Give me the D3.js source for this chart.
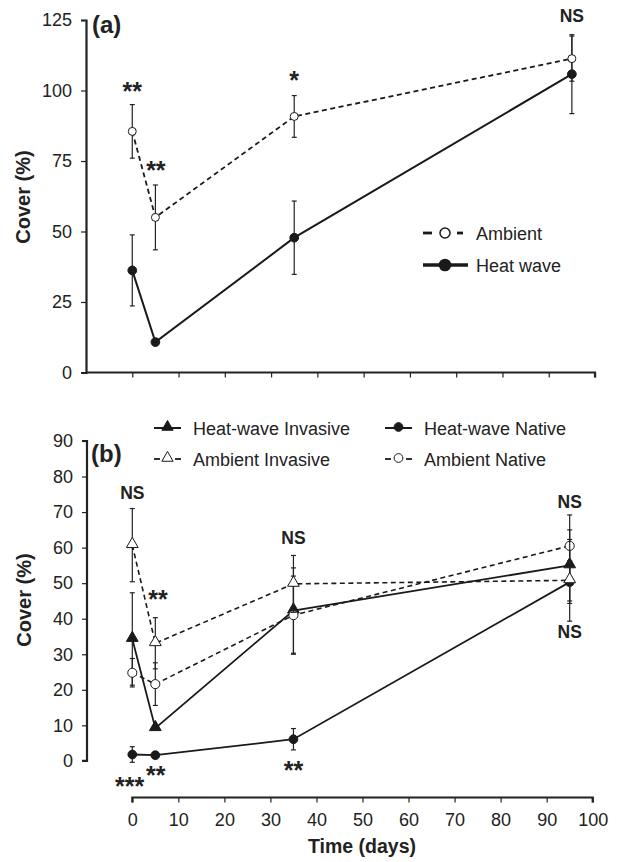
<!DOCTYPE html>
<html><head><meta charset="utf-8">
<script src="https://cdn.jsdelivr.net/npm/d3@7"></script>
<style>
html,body{margin:0;padding:0;background:#fff;}
svg{display:block;font-family:"Liberation Sans",Arial,sans-serif;}
</style></head>
<body><svg id="c" width="618" height="862"></svg>
<script>
// ---------- data ----------
const days = [0, 5, 35, 95];
// Panel (a)
const ambientA = [85.5, 55, 90.8, 111.3];
const ambientAErr = [9.5, 11.5, 7.4, 8];
const heatA = [36.2, 10.8, 47.8, 105.8];
const heatAErr = [12.6, 0.8, 13, 14];
// Panel (b)
const hwInvasive = [34.3, 9.2, 42.3, 55];
const hwInvasiveErr = [13, 0.8, 12, 10];
const ambInvasive = [60.7, 33.1, 49.8, 50.8];
const ambInvasiveErr = [10.3, 7.2, 8, 11.5];
const hwNative = [1.8, 1.6, 6.1, 50.3];
const hwNativeErr = [2.2, 0.5, 3, 6];
const ambNative = [24.8, 21.6, 41, 60.5];
const ambNativeErr = [4, 6, 11, 8.7];
const yTicksA = [0, 25, 50, 75, 100, 125];
const yTicksB = [0, 10, 20, 30, 40, 50, 60, 70, 80, 90];
const xTicks = [0, 10, 20, 30, 40, 50, 60, 70, 80, 90, 100];
const sigA = [{d:0,v:101,t:"**"},{d:5.1,v:72.9,t:"**"},{d:35,v:104.8,t:"*"},{d:95,v:126.4,t:"NS"}];
const sigB = [{d:0,v:75.4,t:"NS"},{d:5.6,v:46.4,t:"**"},{d:35,v:62.7,t:"NS"},{d:95,v:72.8,t:"NS"},{d:95,v:36.3,t:"NS"},
              {d:-0.6,v:-6.2,t:"***"},{d:5.1,v:-3.1,t:"**"},{d:35,v:-1.7,t:"**"}];

// ---------- drawing ----------
const svg = d3.select("#c");
const FONT = '"Liberation Sans",Arial,sans-serif';
const dash = "5,3.5";

function axisStyle(g){
  g.selectAll(".domain").attr("stroke","#222").attr("stroke-width",2.2);
  g.selectAll(".tick line").attr("stroke","#222").attr("stroke-width",1.2);
  g.selectAll(".tick text").attr("font-family",FONT).attr("font-size",18).attr("fill","#222");
}

function drawSeries(g, x, y, vals, errs, opts){
  const pts = days.map((d,i)=>({d, v:vals[i], e:errs[i]}));
  const eb = g.append("g");
  pts.forEach(p=>{
    if(p.e > 1){
      eb.append("line").attr("x1",x(p.d)).attr("x2",x(p.d)).attr("y1",y(p.v-p.e)).attr("y2",y(p.v+p.e))
        .attr("stroke","#222").attr("stroke-width",1.2);
      [p.v-p.e, p.v+p.e].forEach(w=>{
        eb.append("line").attr("x1",x(p.d)-2.5).attr("x2",x(p.d)+2.5).attr("y1",y(w)).attr("y2",y(w))
          .attr("stroke","#222").attr("stroke-width",1.2);
      });
    }
  });
  g.append("path").datum(pts)
    .attr("d", d3.line().x(p=>x(p.d)).y(p=>y(p.v)))
    .attr("fill","none").attr("stroke","#1a1a1a").attr("stroke-width",opts.sw||1.8)
    .attr("stroke-dasharray", opts.dashed ? dash : null);
  const sym = d3.symbol().type(opts.shape==="tri"?d3.symbolTriangle:d3.symbolCircle).size(opts.size);
  g.append("g").selectAll("path").data(pts).join("path")
    .attr("transform",p=>`translate(${x(p.d)},${y(p.v)+(opts.shape==="tri"?-1:0)})`)
    .attr("d",sym)
    .attr("fill",opts.filled?"#1a1a1a":"#fff").attr("stroke","#1a1a1a").attr("stroke-width",1);
}

function sigText(g, x, y, arr){
  g.selectAll("text.sig").data(arr).join("text")
    .attr("x",s=>x(s.d)).attr("y",s=>y(s.v) + (s.t.includes("*") ? 12.5 : 6.3))
    .attr("text-anchor","middle").attr("font-family",FONT).attr("font-weight","bold")
    .attr("font-size",s=>s.t.includes("*")?25:17.5).attr("fill","#222").text(s=>s.t);
}

// ===== Panel (a) =====
const xa = d3.scaleLinear().domain([-10,100]).range([86,595]);
const ya = d3.scaleLinear().domain([0,125]).range([372.5,20]);
const ga = svg.append("g");
ga.append("g").attr("transform","translate(0,372.5)")
  .call(d3.axisBottom(xa).tickValues(xTicks).tickSize(5).tickFormat(""))
  .call(g=>g.select(".domain").attr("d","M86,0H595V5"))
  .call(axisStyle);
ga.append("g").attr("transform","translate(86,0)")
  .call(d3.axisLeft(ya).tickValues(yTicksA).tickSize(5).tickPadding(9))
  .call(axisStyle);
ga.append("text").attr("x",92).attr("y",33).attr("font-family",FONT).attr("font-weight","bold")
  .attr("font-size",24).attr("fill","#222").text("(a)");
drawSeries(ga, xa, ya, heatA, heatAErr, {filled:true, size:60, sw:2});
drawSeries(ga, xa, ya, ambientA, ambientAErr, {filled:false, dashed:true, size:50, sw:1.8});
sigText(ga, xa, ya, sigA);
ga.append("text").attr("transform","translate(30,197) rotate(-90)").attr("text-anchor","middle")
  .attr("font-family",FONT).attr("font-weight","bold").attr("font-size",20).attr("fill","#222").text("Cover (%)");
// legend (a)
const la = ga.append("g");
la.append("line").attr("x1",423).attr("x2",432).attr("y1",233).attr("y2",233).attr("stroke","#1a1a1a").attr("stroke-width",2.8);
la.append("line").attr("x1",457).attr("x2",463).attr("y1",233).attr("y2",233).attr("stroke","#1a1a1a").attr("stroke-width",2.8);
la.append("circle").attr("cx",445).attr("cy",233).attr("r",5).attr("fill","#fff").attr("stroke","#1a1a1a").attr("stroke-width",1.5);
la.append("line").attr("x1",423).attr("x2",468).attr("y1",265).attr("y2",265).attr("stroke","#1a1a1a").attr("stroke-width",3.5);
la.append("circle").attr("cx",445).attr("cy",265).attr("r",6.3).attr("fill","#1a1a1a");
la.append("text").attr("x",476).attr("y",239.5).attr("font-family",FONT).attr("font-size",18).attr("fill","#222").text("Ambient");
la.append("text").attr("x",476).attr("y",271.5).attr("font-family",FONT).attr("font-size",18).attr("fill","#222").text("Heat wave");

// ===== Panel (b) =====
const xb = d3.scaleLinear().domain([0,100]).range([132.3,592.7]);
const yb = d3.scaleLinear().domain([0,90]).range([760.9,441]);
const gb = svg.append("g");
gb.append("g").attr("transform","translate(0,797.5)")
  .call(d3.axisBottom(xb).tickValues(xTicks).tickSize(5).tickPadding(11))
  .call(g=>g.select(".domain").attr("d","M132.3,5V0H592.7V5"))
  .call(axisStyle);
gb.append("g").attr("transform","translate(87,0)")
  .call(d3.axisLeft(yb).tickValues(yTicksB).tickSize(5).tickPadding(9))
  .call(g=>g.select(".domain").attr("d","M-5,441H0V760.9H-5"))
  .call(axisStyle);
gb.append("text").attr("x",91).attr("y",462).attr("font-family",FONT).attr("font-weight","bold")
  .attr("font-size",24).attr("fill","#222").text("(b)");
drawSeries(gb, xb, yb, hwNative, hwNativeErr, {filled:true, size:60, sw:1.8});
drawSeries(gb, xb, yb, hwInvasive, hwInvasiveErr, {filled:true, shape:"tri", size:60, sw:1.8});
drawSeries(gb, xb, yb, ambNative, ambNativeErr, {filled:false, dashed:true, size:65, sw:1.6});
drawSeries(gb, xb, yb, ambInvasive, ambInvasiveErr, {filled:false, dashed:true, shape:"tri", size:60, sw:1.6});
sigText(gb, xb, yb, sigB);
gb.append("text").attr("transform","translate(31,600) rotate(-90)").attr("text-anchor","middle")
  .attr("font-family",FONT).attr("font-weight","bold").attr("font-size",20).attr("fill","#222").text("Cover (%)");
gb.append("text").attr("x",362).attr("y",853).attr("text-anchor","middle")
  .attr("font-family",FONT).attr("font-weight","bold").attr("font-size",19.5).attr("fill","#222").text("Time (days)");
// legend (b)
const legB = [
  {x:154, y:428, label:"Heat-wave Invasive", shape:"tri", filled:true, dashed:false},
  {x:154, y:459, label:"Ambient Invasive", shape:"tri", filled:false, dashed:true},
  {x:385, y:428, label:"Heat-wave Native", shape:"circle", filled:true, dashed:false},
  {x:385, y:459, label:"Ambient Native", shape:"circle", filled:false, dashed:true}
];
legB.forEach(l=>{
  const g = gb.append("g");
  if(l.dashed){
    g.append("line").attr("x1",l.x).attr("x2",l.x+6).attr("y1",l.y).attr("y2",l.y).attr("stroke","#1a1a1a").attr("stroke-width",1.8);
    g.append("line").attr("x1",l.x+21).attr("x2",l.x+27).attr("y1",l.y).attr("y2",l.y).attr("stroke","#1a1a1a").attr("stroke-width",1.8);
  } else {
    g.append("line").attr("x1",l.x).attr("x2",l.x+27).attr("y1",l.y).attr("y2",l.y).attr("stroke","#1a1a1a").attr("stroke-width",2);
  }
  const sym = d3.symbol().type(l.shape==="tri"?d3.symbolTriangle:d3.symbolCircle).size(l.shape==="tri"?55:60);
  g.append("path").attr("transform",`translate(${l.x+13.5},${l.y-1})`).attr("d",sym)
    .attr("fill",l.filled?"#1a1a1a":"#fff").attr("stroke","#1a1a1a").attr("stroke-width",1);
  g.append("text").attr("x",l.x+39).attr("y",l.y+6.5).attr("font-family",FONT).attr("font-size",18).attr("fill","#222").text(l.label);
});
</script></body></html>
